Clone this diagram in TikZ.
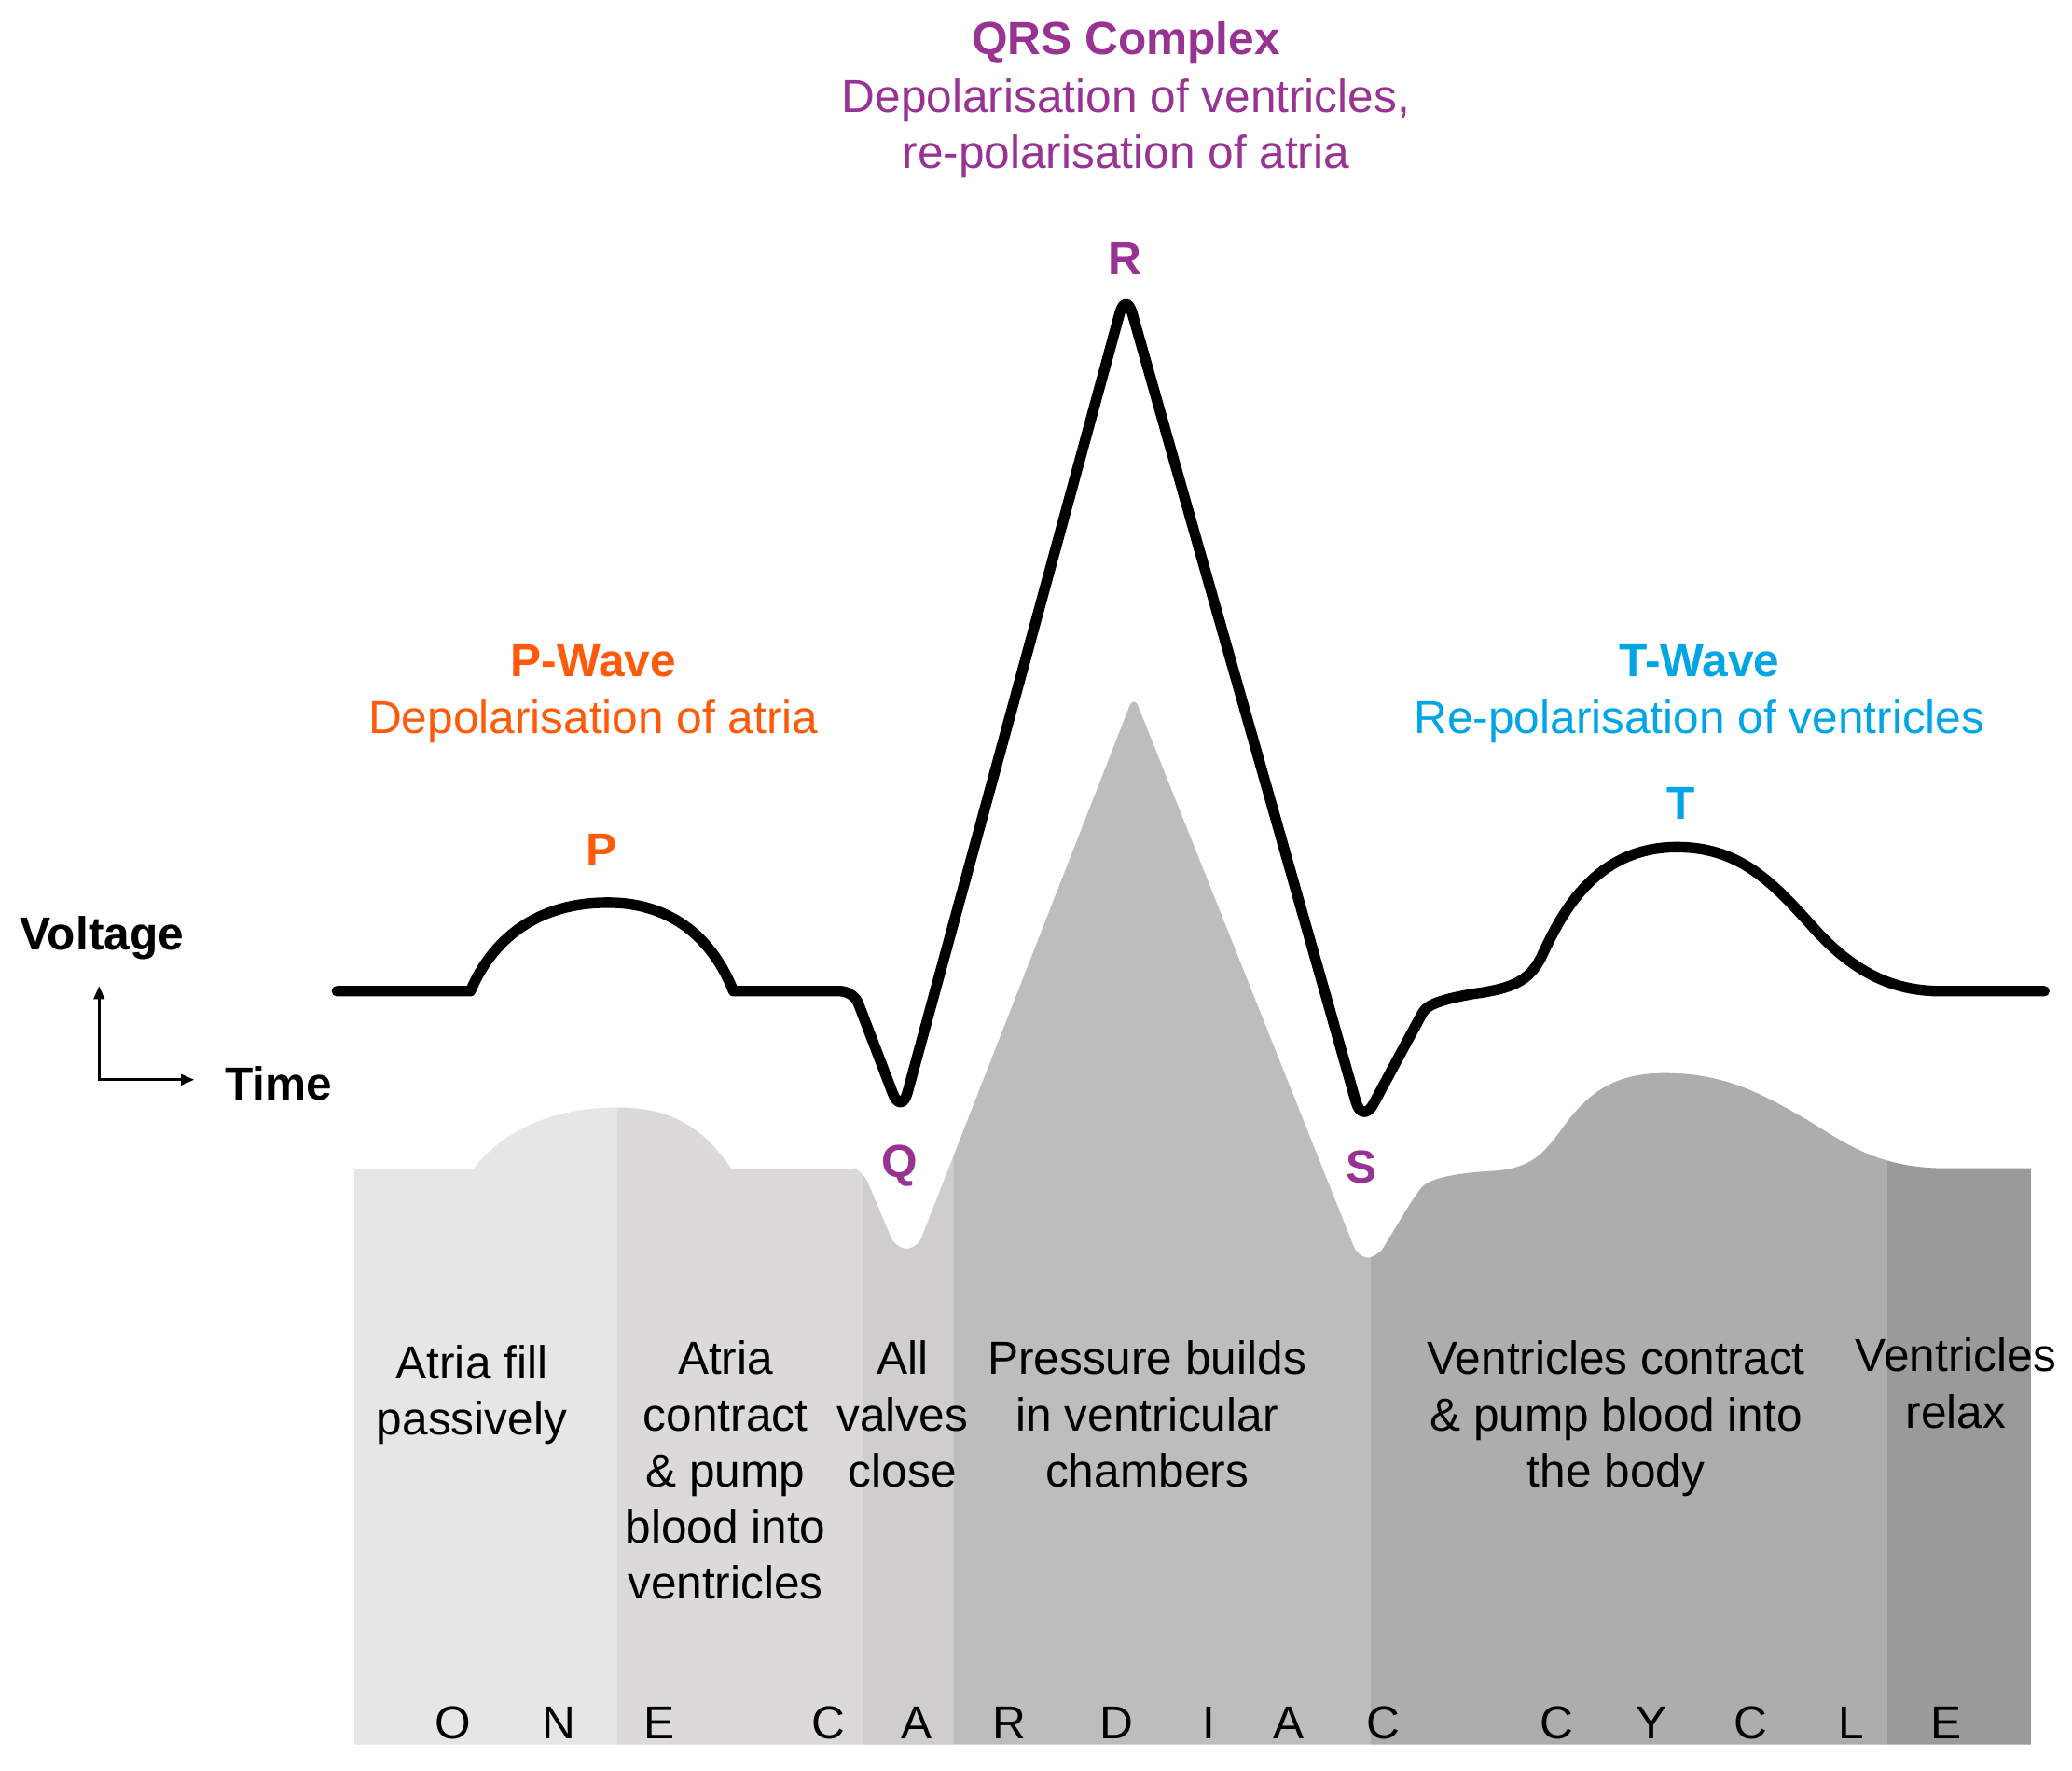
\documentclass[tikz,border=0pt]{standalone}
\usepackage{fontspec}
\setmainfont{Liberation Sans}
\usetikzlibrary{arrows.meta}
\definecolor{porange}{HTML}{FF5A0A}
\definecolor{qpurple}{HTML}{983394}
\definecolor{tcyan}{HTML}{00A5E6}
\definecolor{gA}{HTML}{E6E6E6}
\definecolor{gB}{HTML}{DBD9DA}
\definecolor{gC}{HTML}{CFCDCE}
\definecolor{gD}{HTML}{BDBDBC}
\definecolor{gE}{HTML}{ADADAD}
\definecolor{gF}{HTML}{9A9A9A}
\begin{document}
\begin{tikzpicture}[x=1pt,y=-1pt,
  lbl/.style={inner sep=0pt, anchor=base, align=center, font=\fontsize{35}{42.5}\selectfont},
  blbl/.style={inner sep=0pt, anchor=base, align=center, font=\fontsize{35}{42.5}\selectfont\bfseries},
  ecg/.style={line width=8pt, line cap=round, line join=round, black},
  axisline/.style={line width=2.2pt, black, {Triangle[length=10pt,width=8pt]}-{Triangle[length=10pt,width=8pt]}}]
\useasboundingbox (0,0) rectangle (1568,1340);
\fill[white] (0,0) rectangle (1568,1340);

% grey phase columns clipped by silhouette
\begin{scope}
\clip (268,1320) -- (268,885) -- (358,885)
  .. controls (380,855) and (420,838) .. (466,838)
  .. controls (505,838) and (530,850) .. (554,885)
  -- (650,885) [rounded corners=9pt] -- (653,886) -- (678,945) -- (694,945) -- (858,526) -- (1028,952) -- (1042,952) -- (1070,906) [sharp corners]
  .. controls (1080,893) and (1095,888) .. (1130,886)
  .. controls (1160,884) and (1168,872) .. (1180,857)
  .. controls (1200,828) and (1220,812) .. (1260,812)
  .. controls (1310,812) and (1340,832) .. (1367,847)
  .. controls (1395,864) and (1420,884) .. (1473,884)
  -- (1537,884) -- (1537,1320) -- cycle;
\fill[gA] (268,500) rectangle (467,1320);
\fill[gB] (467,500) rectangle (653,1320);
\fill[gC] (653,500) rectangle (722,1320);
\fill[gD] (722,500) rectangle (1037,1320);
\fill[gE] (1037,500) rectangle (1428,1320);
\fill[gF] (1428,500) rectangle (1537,1320);
\end{scope}

% ECG trace
\draw[ecg] (255,750) -- (356,750)
  .. controls (372,712) and (405,683) .. (460,683)
  .. controls (510,683) and (540,712) .. (555,750)
  [rounded corners=10pt] -- (646,750) [rounded corners=18pt] -- (682,844) -- (852,220) -- (1031,851) -- (1068,782) [sharp corners]
  .. controls (1080,760) and (1092,756) .. (1115,752)
  .. controls (1145,748) and (1157,742) .. (1166,725)
  .. controls (1180,695) and (1205,641) .. (1269,641)
  .. controls (1320,641) and (1345,672) .. (1376,706)
  .. controls (1410,742) and (1440,750) .. (1470,750)
  -- (1547,750);

% axes
\coordinate (ax0) at (75,817);
\coordinate (axv) at (75,746);
\coordinate (axh) at (147,817);
\draw[axisline] (axv) -- (ax0) -- (axh);
\node[blbl, anchor=base west] (volt) at (15,719) {Voltage};
\node[blbl, anchor=base west] (time) at (170,832) {Time};

% wave labels (base anchor of a multi-line node = last line)
\node[blbl, text=qpurple] (qrs) at (852,41) {QRS Complex};
\node[lbl, text=qpurple] (qrsd) at (852,127.5) {Depolarisation of ventricles,\\re-polarisation of atria};
\node[blbl, text=qpurple] (rl) at (851,208) {R};
\node[blbl, text=porange] (pw) at (449,512) {P-Wave};
\node[lbl, text=porange] (pwd) at (449,555) {Depolarisation of atria};
\node[blbl, text=porange] (pl) at (455,655) {P};
\node[blbl, text=tcyan] (tw) at (1286,512) {T-Wave};
\node[lbl, text=tcyan] (twd) at (1286,555) {Re-polarisation of ventricles};
\node[blbl, text=tcyan] (tl) at (1272,620) {T};
\node[blbl, text=qpurple] (ql) at (681,891) {Q};
\node[blbl, text=qpurple] (sl) at (1030,895) {S};

% phase texts
\node[lbl] (c1) at (357,1085.5) {Atria fill\\passively};
\node[lbl] (c2) at (549,1210) {Atria\\contract\\\& pump\\blood into\\ventricles};
\node[lbl] (c3) at (683,1125) {All\\valves\\close};
\node[lbl] (c4) at (868,1125) {Pressure builds\\in ventricular\\chambers};
\node[lbl] (c5) at (1223,1125) {Ventricles contract\\\& pump blood into\\the body};
\node[lbl] (c6) at (1480,1080.5) {Ventricles\\relax};

% one cardiac cycle
\foreach \ch/\xx [count=\i] in {O/343,N/423,E/499,C/627,A/694,R/764,D/845,I/915,A/975,C/1047,C/1178,Y/1250,C/1325,L/1401,E/1473}
  \node[lbl] (cyc\i) at (\xx,1316) {\ch};
\end{tikzpicture}
\end{document}
